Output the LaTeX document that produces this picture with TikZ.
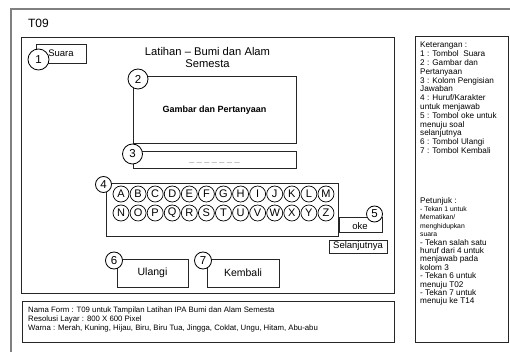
\documentclass[tikz,border=0pt]{standalone}
\usepackage{fontspec}
\setmainfont{Liberation Sans}
\begin{document}
\begin{tikzpicture}[x=1pt,y=-1pt]
\tikzset{
  frame/.style={draw=black!85,line width=0.8pt,inner sep=0pt},
  numc/.style={circle,draw=black,fill=white,line width=0.8pt,inner sep=0pt,font=\fontsize{11.5}{12}\selectfont},
  letc/.style={circle,draw=black,fill=white,line width=0.7pt,inner sep=0pt,minimum size=16pt,font=\fontsize{11}{12}\selectfont},
  lbl/.style={inner sep=0pt},
}
\useasboundingbox[fill=white] (0,0) rectangle (510,352);
% outer frame
\draw[draw=black!50,line width=1.6pt] (510,9) -- (11,9) -- (11,352);
\node[lbl,font=\fontsize{12}{14}\selectfont] (t09) at (38.5,23) {T09};
% main box
\node[frame,minimum width=373pt,minimum height=256pt] (main) at (207.5,165) {};
\node[lbl,align=center,font=\fontsize{11.2}{12}\selectfont] (title) at (207.5,57.5) {Latihan -- Bumi dan Alam\\Semesta};
% Suara
\node[frame,minimum width=50pt,minimum height=19pt,font=\fontsize{9.5}{11}\selectfont] (suara) at (61,53.5) {Suara};
\node[numc,minimum size=21pt] (n1) at (38.5,59.5) {1};
% box 2
\node[frame,minimum width=163pt,minimum height=67pt] (gambar) at (214.5,109.5) {};
\node[lbl,font=\fontsize{9}{11}\bfseries] (gtext) at (214.5,110) {Gambar dan Pertanyaan};
\node[numc,minimum size=20pt] (n2) at (138,79) {2};
% box 3
\node[frame,minimum width=163pt,minimum height=17pt] (jawab) at (214.5,159.5) {};
\node[lbl,anchor=base,text=black!40,font=\fontsize{9}{11}\selectfont] (dash) at (214.5,161.5) {\_ \_ \_ \_ \_ \_ \_};
\node[numc,minimum size=20pt] (n3) at (132.5,154) {3};
% box 4
\node[frame,minimum width=232pt,minimum height=53pt] (huruf) at (222,209.5) {};
\node[numc,minimum size=16pt] (n4) at (103.5,184.5) {4};
\foreach \l [count=\i from 0] in {A,B,C,D,E,F,G,H,I,J,K,L,M}
  \node[letc] (L\l) at ({121+17.08*\i},194) {\l};
\foreach \l [count=\i from 0] in {N,O,P,Q,R,S,T,U,V,W,X,Y,Z}
  \node[letc] (L\l) at ({121+17.08*\i},213) {\l};
% oke
\node[frame,minimum width=43pt,minimum height=15pt] (oke) at (360.5,224.5) {};
\node[lbl,font=\fontsize{9.5}{11}\selectfont] (oketext) at (360,226) {oke};
\node[numc,minimum size=16pt] (n5) at (374.5,214) {5};
% selanjutnya
\node[frame,minimum width=58pt,minimum height=13pt,font=\fontsize{9.5}{11}\selectfont] (lanjut) at (358,246.5) {Selanjutnya};
% ulangi / kembali
\node[frame,minimum width=71pt,minimum height=28pt,font=\fontsize{10.5}{12}\selectfont] (ulangi) at (152.5,273) {Ulangi};
\node[numc,minimum size=17pt] (n6) at (114,260.5) {6};
\node[frame,minimum width=72pt,minimum height=28pt,font=\fontsize{10.5}{12}\selectfont] (kembali) at (243,273) {Kembali};
\node[numc,minimum size=17pt] (n7) at (203,260.5) {7};
% info box
\node[frame,minimum width=372pt,minimum height=41pt] (info) at (208,321.5) {};
\node[lbl,anchor=base west,align=left,font=\fontsize{7.8}{9}\selectfont] (infotext) at (28,330.8) {Nama Form : T09 untuk Tampilan Latihan IPA Bumi dan Alam Semesta\\Resolusi Layar : 800 X 600 Pixel\\Warna : Merah, Kuning, Hijau, Biru, Biru Tua, Jingga, Coklat, Ungu, Hitam, Abu-abu};
% keterangan box
\node[frame,minimum width=93pt,minimum height=306pt] (ket) at (461.5,189) {};
\node[lbl,anchor=base west,align=left,font=\fontsize{8.2}{8.8}\selectfont] (kettext) at (420,153.6) {Keterangan :\\1 : Tombol \ Suara\\2 : Gambar dan\\Pertanyaan\\3 : Kolom Pengisian\\Jawaban\\4 : Huruf/Karakter\\untuk menjawab\\5 : Tombol oke untuk\\menuju soal\\selanjutnya\\6 : Tombol Ulangi\\7 : Tombol Kembali};
\node[lbl,anchor=base west,align=left,font=\fontsize{8.2}{8.4}\selectfont] (petunjuk) at (420,303.8) {Petunjuk :\\{\fontsize{6.8}{8.4}\selectfont - Tekan 1 untuk}\\{\fontsize{6.8}{8.4}\selectfont Mematikan/}\\{\fontsize{6.8}{8.4}\selectfont menghidupkan}\\{\fontsize{6.8}{8.4}\selectfont suara}\\- Tekan salah satu\\huruf dari 4 untuk\\menjawab pada\\kolom 3\\- Tekan 6 untuk\\menuju T02\\- Tekan 7 untuk\\menuju ke T14};
\end{tikzpicture}
\end{document}
